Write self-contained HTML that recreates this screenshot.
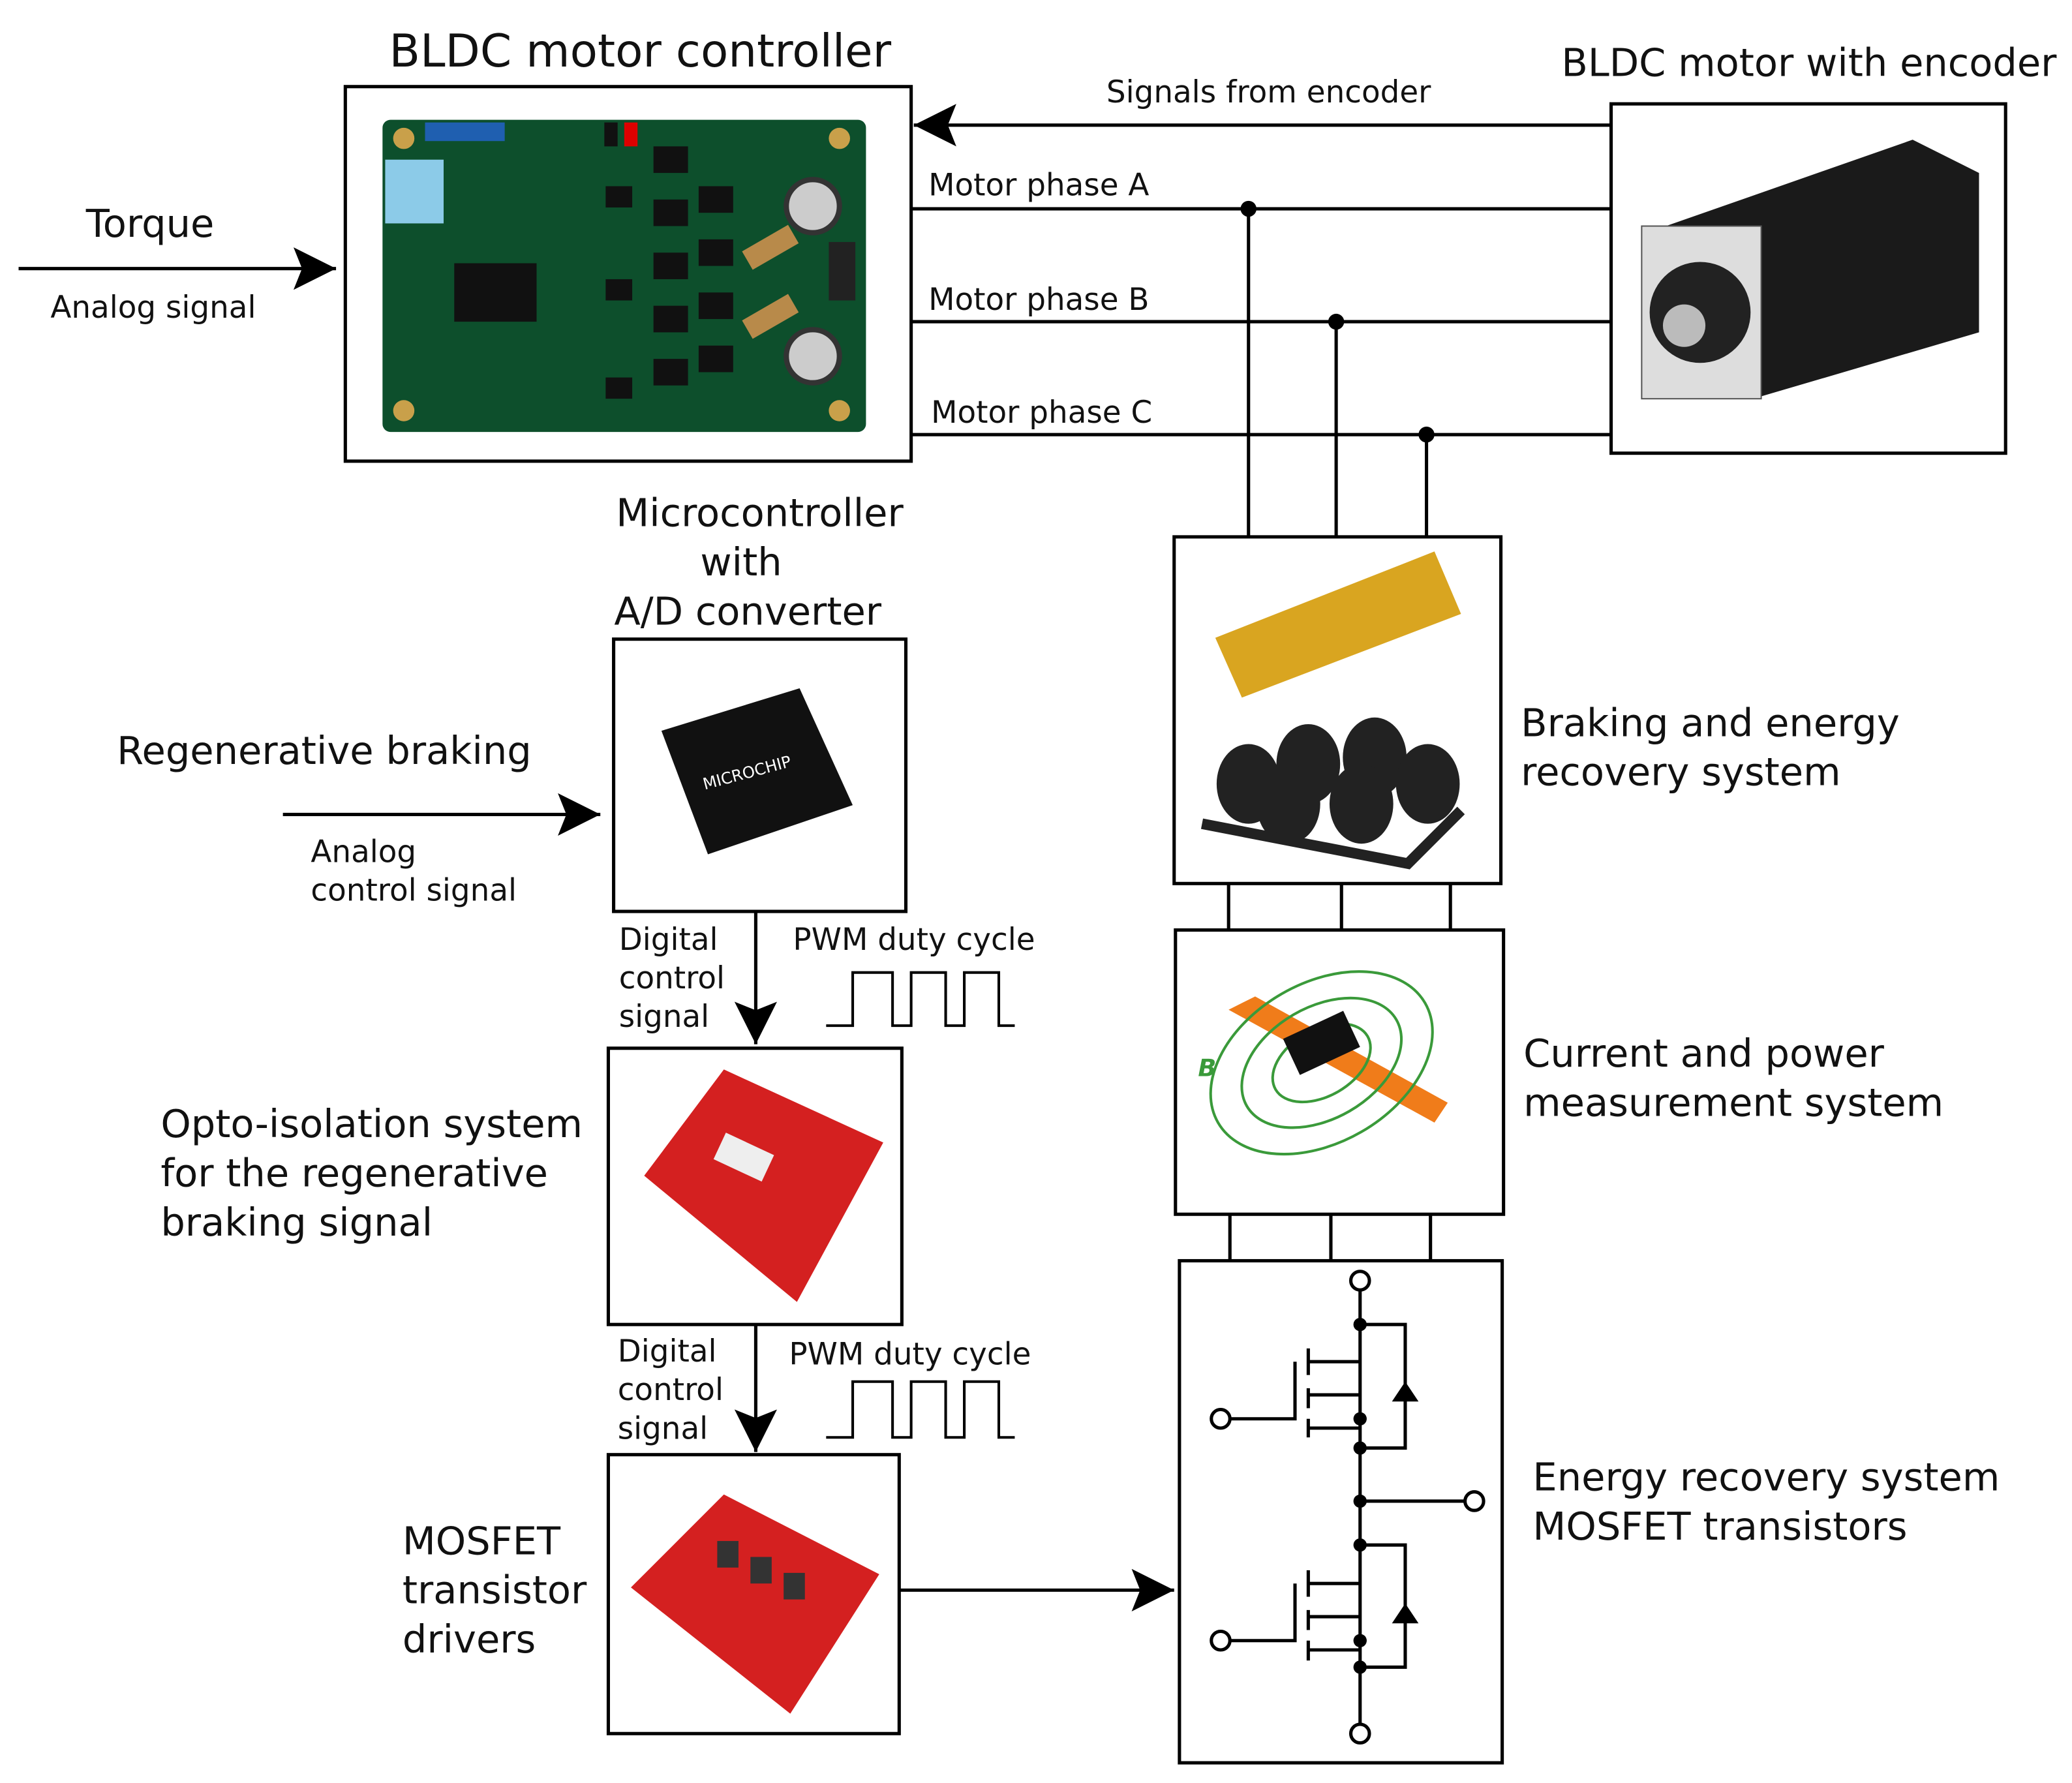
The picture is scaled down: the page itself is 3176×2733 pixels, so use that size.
<!DOCTYPE html>
<html><head><meta charset="utf-8"><style>html,body{margin:0;padding:0;background:#fff}svg{display:block}text{font-family:"DejaVu Sans","Liberation Sans",sans-serif;fill:#111}</style></head>
<body>
<svg width="3176" height="2733" viewBox="0 0 1560 1342" xmlns="http://www.w3.org/2000/svg">
<defs>
<marker id="b" viewBox="0 0 10 10" refX="10" refY="5" markerWidth="42" markerHeight="32" markerUnits="userSpaceOnUse" orient="auto"><path d="M0,0L10,5L0,10L2,5z" fill="#000"/></marker></defs>
<g stroke="#000" stroke-width="2.5" fill="none">
<rect x="260" y="65" width="426" height="282"/>
<rect x="1213" y="78" width="297" height="263"/>
<rect x="884" y="404" width="246" height="261"/>
<rect x="885" y="700" width="247" height="214"/>
<rect x="888" y="949" width="243" height="378"/>
<rect x="462" y="481" width="220" height="205"/>
<rect x="458" y="789" width="221" height="208"/>
<rect x="458" y="1095" width="219" height="210"/>
<path d="M1213 94H688" marker-end="url(#b)"/>
<path d="M686 157H1213M686 242H1213M686 327H1213M940 157V404M1006 242V404M1074 327V404"/>
<path d="M925 665V700M1010 665V700M1092 665V700M926 914V949M1002 914V949M1077 914V949"/>
<path d="M14 202H253" marker-end="url(#b)"/>
<path d="M213 613H452" marker-end="url(#b)"/>
<path d="M569 686V786" marker-end="url(#b)"/>
<path d="M569 997V1093" marker-end="url(#b)"/>
<path d="M677 1197H884" marker-end="url(#b)"/>
<path d="M622 772H642V732H672V772H686V732H712V772H726V732H752V772H764" stroke-width="2"/>
<path d="M622 1082H642V1040H672V1082H686V1040H712V1082H726V1040H752V1082H764" stroke-width="2"/>
</g>
<g fill="#000"><circle cx="940" cy="157" r="6"/><circle cx="1006" cy="242" r="6"/><circle cx="1074" cy="327" r="6"/></g>
<rect x="288" y="90" width="364" height="235" rx="6" fill="#0d4f2c"/>
<rect x="342" y="198" width="62" height="44" fill="#111"/>
<g fill="#111"><rect x="456" y="140" width="20" height="16"/><rect x="492" y="110" width="26" height="20"/><rect x="492" y="150" width="26" height="20"/><rect x="492" y="190" width="26" height="20"/><rect x="492" y="230" width="26" height="20"/><rect x="492" y="270" width="26" height="20"/><rect x="526" y="140" width="26" height="20"/><rect x="526" y="180" width="26" height="20"/><rect x="526" y="220" width="26" height="20"/><rect x="526" y="260" width="26" height="20"/><rect x="456" y="210" width="20" height="16"/><rect x="456" y="284" width="20" height="16"/></g>
<circle cx="612" cy="155" r="20" fill="#ccc" stroke="#333" stroke-width="4"/><circle cx="612" cy="268" r="20" fill="#ccc" stroke="#333" stroke-width="4"/>
<rect x="290" y="120" width="44" height="48" fill="#8ccbe8"/><rect x="320" y="92" width="60" height="14" fill="#1f5fb0"/>
<circle cx="304" cy="104" r="8" fill="#c9a04a"/><circle cx="632" cy="104" r="8" fill="#c9a04a"/><circle cx="304" cy="309" r="8" fill="#c9a04a"/><circle cx="632" cy="309" r="8" fill="#c9a04a"/>
<rect x="455" y="92" width="10" height="18" fill="#111"/><rect x="470" y="92" width="10" height="18" fill="#d00"/>
<rect x="560" y="178" width="40" height="16" fill="#b88a4a" transform="rotate(-30 580 186)"/><rect x="560" y="230" width="40" height="16" fill="#b88a4a" transform="rotate(-30 580 238)"/>
<rect x="624" y="182" width="20" height="44" fill="#222"/>
<path d="M1240 175L1440 105L1490 130L1490 250L1320 300L1240 290Z" fill="#1a1a1a"/>
<rect x="1236" y="170" width="90" height="130" fill="#ddd" stroke="#555"/><circle cx="1280" cy="235" r="38" fill="#222"/><circle cx="1268" cy="245" r="16" fill="#bbb"/>
<path d="M915 480L1080 415L1100 462L935 525Z" fill="#d9a520"/>
<g fill="#222"><ellipse cx="940" cy="590" rx="24" ry="30"/><ellipse cx="985" cy="575" rx="24" ry="30"/><ellipse cx="1035" cy="570" rx="24" ry="30"/><ellipse cx="1075" cy="590" rx="24" ry="30"/><ellipse cx="970" cy="605" rx="24" ry="30"/><ellipse cx="1025" cy="605" rx="24" ry="30"/></g>
<path d="M905 620L1060 650L1100 610" stroke="#222" stroke-width="8" fill="none"/>
<path d="M498 550L602 518L642 606L533 643Z" fill="#111"/>
<text x="528" y="585" font-size="12" style="fill:#fff" transform="rotate(-15 565 580)">MICROCHIP</text>
<path d="M925 760L945 750L1090 830L1080 845Z" fill="#f07c1a"/>
<g stroke="#3a9a3a" stroke-width="2" fill="none"><ellipse cx="995" cy="800" rx="90" ry="60" transform="rotate(-30 995 800)"/><ellipse cx="995" cy="800" rx="65" ry="42" transform="rotate(-30 995 800)"/><ellipse cx="995" cy="800" rx="40" ry="25" transform="rotate(-30 995 800)"/></g>
<rect x="970" y="770" width="50" height="30" fill="#111" transform="rotate(-25 995 785)"/>
<text x="902" y="810" font-size="18" font-style="italic" font-weight="bold" style="fill:#3a9a3a">B</text>
<path d="M485 885L545 805L665 860L600 980Z" fill="#d42020"/><rect x="540" y="860" width="40" height="22" fill="#eee" transform="rotate(25 560 871)"/>
<path d="M475 1195L545 1125L662 1185L595 1290Z" fill="#d42020"/>
<g fill="#333"><rect x="540" y="1160" width="16" height="20"/><rect x="565" y="1172" width="16" height="20"/><rect x="590" y="1184" width="16" height="20"/></g>
<g stroke="#000" stroke-width="2.5" fill="none">
<path d="M1024 970V1300M1024 997H1058V1090H1024M1024 1163H1058V1255H1024M1024 1130H1105M926 1068H975V1025M926 1235H975V1192M985 1015V1035M985 1045V1060M985 1068V1082M985 1182V1202M985 1212V1227M985 1235V1250M985 1025H1024M985 1075H1024M985 1050H1024M985 1192H1024M985 1242H1024M985 1217H1024"/>
</g>
<g fill="#000"><path d="M1048 1055H1068L1058 1040Z"/><path d="M1048 1222H1068L1058 1207Z"/><circle cx="1024" cy="997" r="5"/><circle cx="1024" cy="1068" r="5"/><circle cx="1024" cy="1090" r="5"/><circle cx="1024" cy="1130" r="5"/><circle cx="1024" cy="1163" r="5"/><circle cx="1024" cy="1235" r="5"/><circle cx="1024" cy="1255" r="5"/></g>
<g fill="#fff" stroke="#000" stroke-width="2.5"><circle cx="1024" cy="964" r="7"/><circle cx="1024" cy="1305" r="7"/><circle cx="919" cy="1068" r="7"/><circle cx="919" cy="1235" r="7"/><circle cx="1110" cy="1130" r="7"/></g>
<g font-size="34"><text x="482" y="50" text-anchor="middle">BLDC motor controller</text></g>
<g font-size="29">
<text x="1362" y="57" text-anchor="middle">BLDC motor with encoder</text>
<text x="113" y="178" text-anchor="middle">Torque</text>
<text x="572" y="396" text-anchor="middle">Microcontroller</text>
<text x="558" y="433" text-anchor="middle">with</text>
<text x="563" y="470" text-anchor="middle">A/D converter</text>
<text x="88" y="575">Regenerative braking</text>
<text x="1145" y="554">Braking and energy</text><text x="1145" y="591">recovery system</text>
<text x="1147" y="803">Current and power</text><text x="1147" y="840">measurement system</text>
<text x="121" y="856">Opto-isolation system</text><text x="121" y="893">for the regenerative</text><text x="121" y="930">braking signal</text>
<text x="303" y="1170">MOSFET</text><text x="303" y="1207">transistor</text><text x="303" y="1244">drivers</text>
<text x="1154" y="1122">Energy recovery system</text><text x="1154" y="1159">MOSFET transistors</text>
</g>
<g font-size="23">
<text x="833" y="77">Signals from encoder</text>
<text x="699" y="147">Motor phase A</text>
<text x="699" y="233">Motor phase B</text>
<text x="701" y="318">Motor phase C</text>
<text x="38" y="239">Analog signal</text>
<text x="234" y="649">Analog</text><text x="234" y="678">control signal</text>
<text x="466" y="715">Digital</text><text x="466" y="744">control</text><text x="466" y="773">signal</text>
<text x="597" y="715">PWM duty cycle</text>
<text x="465" y="1025">Digital</text><text x="465" y="1054">control</text><text x="465" y="1083">signal</text>
<text x="594" y="1027">PWM duty cycle</text>
</g>
</svg>
</body></html>
